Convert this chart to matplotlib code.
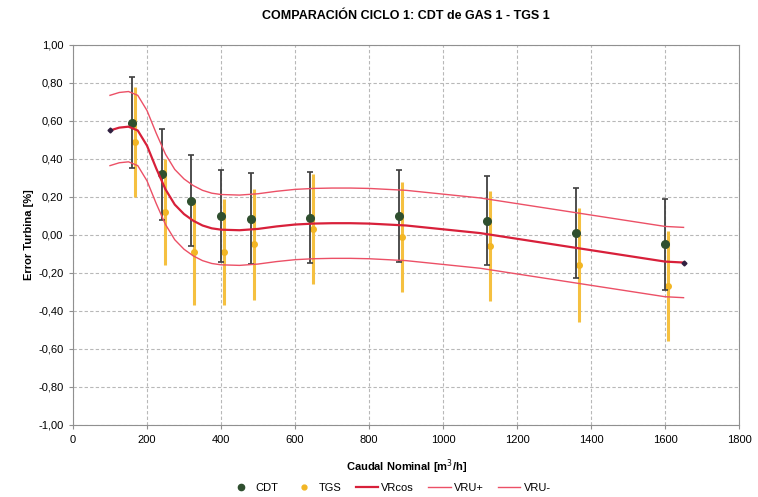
import matplotlib
matplotlib.use("Agg")
import matplotlib.pyplot as plt
from matplotlib.ticker import MultipleLocator, FuncFormatter
from matplotlib.lines import Line2D

plt.rcParams['font.family'] = ['Liberation Sans', 'DejaVu Sans']

# CDT data
cdt_x = [160, 240, 320, 400, 480, 640, 880, 1120, 1360, 1600]
cdt_y = [0.59, 0.32, 0.18, 0.10, 0.085, 0.09, 0.10, 0.075, 0.01, -0.05]
cdt_err = [0.24, 0.24, 0.24, 0.24, 0.24, 0.24, 0.24, 0.235, 0.235, 0.24]

# TGS data
tgs_x = [168, 248, 328, 408, 488, 648, 888, 1128, 1368, 1608]
tgs_y = [0.49, 0.12, -0.09, -0.09, -0.05, 0.03, -0.01, -0.06, -0.16, -0.27]
tgs_err = [0.29, 0.28, 0.28, 0.28, 0.29, 0.29, 0.29, 0.29, 0.30, 0.29]

# Curves
curve_x = [100, 125, 150, 175, 200, 225, 250, 275, 300, 325, 350, 375, 400, 450,
           500, 550, 600, 650, 700, 750, 800, 850, 900, 950, 1000, 1050, 1100,
           1150, 1200, 1250, 1300, 1350, 1400, 1450, 1500, 1550, 1600, 1650]
vrcos = [0.55, 0.565, 0.57, 0.55, 0.47, 0.35, 0.24, 0.16, 0.11, 0.075, 0.05, 0.035,
         0.028, 0.025, 0.032, 0.045, 0.055, 0.06, 0.062, 0.062, 0.06, 0.055, 0.05,
         0.04, 0.03, 0.02, 0.01, -0.005, -0.02, -0.035, -0.05, -0.065, -0.08,
         -0.095, -0.11, -0.125, -0.14, -0.145]
vru_plus = [0.735, 0.75, 0.755, 0.735, 0.655, 0.535, 0.425, 0.345, 0.295, 0.26,
            0.235, 0.22, 0.213, 0.21, 0.217, 0.23, 0.24, 0.245, 0.247, 0.247, 0.245,
            0.24, 0.235, 0.225, 0.215, 0.205, 0.195, 0.18, 0.165, 0.15, 0.135, 0.12,
            0.105, 0.09, 0.075, 0.06, 0.045, 0.04]
vru_minus = [0.365, 0.38, 0.385, 0.365, 0.285, 0.165, 0.055, -0.025, -0.075, -0.11,
             -0.135, -0.15, -0.157, -0.16, -0.153, -0.14, -0.13, -0.125, -0.123,
             -0.123, -0.125, -0.13, -0.135, -0.145, -0.155, -0.165, -0.175, -0.19,
             -0.205, -0.22, -0.235, -0.25, -0.265, -0.28, -0.295, -0.31, -0.325, -0.33]

fig = plt.figure(figsize=(7.58, 4.97), dpi=100)
ax = fig.add_axes([0.0963, 0.1449, 0.8787, 0.7646])

ax.set_xlim(0, 1800)
ax.set_ylim(-1.0, 1.0)
ax.xaxis.set_major_locator(MultipleLocator(200))
ax.yaxis.set_major_locator(MultipleLocator(0.2))
ax.yaxis.set_major_formatter(FuncFormatter(lambda v, p: f"{v:.2f}".replace('.', ',').replace('-0,00', '0,00')))
ax.grid(True, color='#b8b8b8', linestyle=(0, (3, 2)), linewidth=0.8)
ax.set_axisbelow(True)
for s in ax.spines.values():
    s.set_color('#909090')
    s.set_linewidth(0.8)
ax.tick_params(labelsize=8, color='#909090', length=3, pad=4)

# error bars
ax.errorbar(tgs_x, tgs_y, yerr=tgs_err, fmt='o', color='#f2b624', ecolor='#f5c040',
            elinewidth=2.2, markersize=4, capsize=0, zorder=3)
ax.errorbar(cdt_x, cdt_y, yerr=cdt_err, fmt='o', color='#2f4f2f', ecolor='#404040',
            elinewidth=1.3, markersize=5.5, capsize=2.5, capthick=1.2, zorder=4)

ax.plot(curve_x, vrcos, color='#d8203a', linewidth=1.6, zorder=5)
ax.plot([curve_x[0], curve_x[-1]], [vrcos[0], vrcos[-1]], linestyle='none', marker='D',
        markersize=2.5, color='#302040', zorder=6)
ax.plot(curve_x, vru_plus, color='#ec5066', linewidth=1.0, zorder=5)
ax.plot(curve_x, vru_minus, color='#ec5066', linewidth=1.0, zorder=5)

ax.set_title('COMPARACIÓN CICLO 1: CDT de GAS 1 - TGS 1', fontsize=9, fontweight='bold', pad=19)
ax.set_xlabel('Caudal Nominal [m$^3$/h]', fontsize=8, fontweight='bold', labelpad=9)
ax.set_ylabel('Error Turbina [%]', fontsize=8, fontweight='bold', labelpad=3)

handles = [
    Line2D([], [], linestyle='none', marker='o', markersize=4.5, color='#2f4f2f'),
    Line2D([], [], linestyle='none', marker='o', markersize=3.5, color='#f2b624'),
    Line2D([], [], color='#d8203a', linewidth=1.6),
    Line2D([], [], color='#ec5066', linewidth=1.0),
    Line2D([], [], color='#ec5066', linewidth=1.0),
]
order = ['CDT', 'TGS', 'VRcos', 'VRU+', 'VRU-']
fig.legend(handles, order, loc='lower center', ncol=5, frameon=False,
           fontsize=8, bbox_to_anchor=(0.515, -0.012), handlelength=2.0, columnspacing=1.3,
           handletextpad=0.3)

fig.savefig('out.png', dpi=100)
